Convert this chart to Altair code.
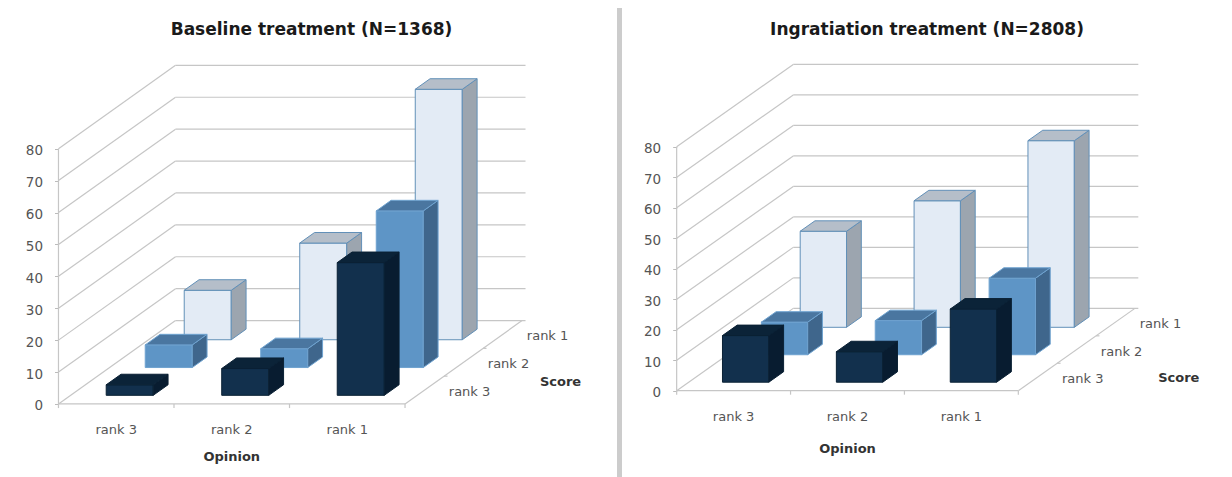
import altair as alt
import pandas as pd

OPINIONS = ["rank 3", "rank 2", "rank 1"]
SCORES = ["rank 3", "rank 2", "rank 1"]   # front to back
TICKS = [0, 10, 20, 30, 40, 50, 60, 70, 80]

# values per score series, in opinion order
BASE_RANK3 = [3.3, 8.4, 41.6]
BASE_RANK2 = [7.1, 5.9, 49.1]
BASE_RANK1 = [15.5, 30.3, 78.5]
ING_RANK3 = [15.3, 10.0, 24.0]
ING_RANK2 = [10.7, 11.2, 25.1]
ING_RANK1 = [31.5, 41.5, 61.2]

PALETTE = {  # front, side, top, stroke
    "rank 1": ("#E3EBF5", "#9CA5AF", "#B5BEC9", "#6290B8"),
    "rank 2": ("#5E95C6", "#3F668C", "#4A76A0", "#6FA3D0"),
    "rank 3": ("#12304D", "#081C30", "#0B2338", "#0A2034"),
}
GRID = "#C6C6C6"
TEXT = "#555555"
FONT = "DejaVu Sans"


def panel(title, series, xdom, ydom, width, k, m, pad, title_dx, shift, opinion_dy, score_dx, score_dy):
    """k, m: how far one score slot shifts a point along x and y (oblique projection)."""
    half_w, half_d, lift = 0.2035, 0.19, 0.5

    def px(u, d):
        return u + d * k

    def py(v, d):
        return v + d * m

    lines = []
    def seg(name, a, b):
        lines.append(dict(id=name, x=a[0], y=a[1], o=0))
        lines.append(dict(id=name, x=b[0], y=b[1], o=1))

    for t in TICKS:
        seg(f"wall{t}", (px(0, 0), py(t, 0)), (px(0, 3), py(t, 3)))
        seg(f"back{t}", (px(0, 3), py(t, 3)), (px(3.03, 3), py(t, 3)))
    seg("yaxis", (0, 0), (0, 80))
    seg("floorfront", (0, 0), (3, 0))
    seg("floorside", (px(3, 0), py(0, 0)), (px(3, 3), py(0, 3)))
    for i in range(4):
        seg(f"xt{i}", (i, 0), (i, -1.3))
    for i in range(1, 3):
        seg(f"dt{i}", (px(3, i), py(0, i)), (px(3.03, i), py(0, i)))

    axis_holder = (
        alt.Chart(pd.DataFrame({"v": TICKS, "u": [0] * len(TICKS)}))
        .mark_point(opacity=0)
        .encode(
            x=alt.X("u:Q", scale=alt.Scale(domain=xdom, nice=False, zero=False), axis=None),
            y=alt.Y(
                "v:Q",
                scale=alt.Scale(domain=ydom, nice=False, zero=False),
                axis=alt.Axis(
                    title=None, values=TICKS, grid=False, domain=False,
                    offset=-pad, tickColor="#BBBBBB", tickSize=4,
                    labelFont=FONT, labelFontSize=13.5, labelColor=TEXT,
                    labelPadding=12, labelOffset=2,
                ),
            ),
        )
    )
    x_q, y_q = alt.X("x:Q"), alt.Y("y:Q")
    grid = (
        alt.Chart(pd.DataFrame(lines))
        .mark_line(color=GRID, strokeWidth=1.2)
        .encode(x=x_q, y=y_q, detail="id:N", order="o:Q")
    )

    layers = [axis_holder, grid]
    for s in reversed(range(3)):
        name = SCORES[s]
        front_c, side_c, top_c, stroke_c = PALETTE[name]
        d0 = s + lift - half_d
        d1 = s + lift + half_d
        front, side, top = [], [], []
        for i, val in enumerate(series[s]):
            u0, u1 = i + 0.5 - half_w + shift, i + 0.5 + half_w + shift
            front += [dict(id=i, x=px(u0, d0), y=py(val, d0), y2=py(0, d0)),
                      dict(id=i, x=px(u1, d0), y=py(val, d0), y2=py(0, d0))]
            side += [dict(id=i, x=px(u1, d0), y=py(val, d0), y2=py(0, d0)),
                     dict(id=i, x=px(u1, d1), y=py(val, d1), y2=py(0, d1))]
            top += [dict(id=i, y=py(val, d0), x=px(u0, d0), x2=px(u1, d0)),
                    dict(id=i, y=py(val, d1), x=px(u0, d1), x2=px(u1, d1))]
        for rows, col in ((front, front_c), (side, side_c)):
            layers.append(
                alt.Chart(pd.DataFrame(rows))
                .mark_area(fill=col, stroke=stroke_c, strokeWidth=1, opacity=1)
                .encode(x=x_q, y=y_q, y2="y2:Q", detail="id:N")
            )
        layers.append(
            alt.Chart(pd.DataFrame(top))
            .mark_area(orient="horizontal", fill=top_c, stroke=stroke_c, strokeWidth=1, opacity=1)
            .encode(x=x_q, x2="x2:Q", y=y_q, detail="id:N")
        )

    opinion_labels = pd.DataFrame(
        {"t": OPINIONS, "x": [i + 0.5 for i in range(3)], "y": [0.0] * 3}
    )
    score_labels = pd.DataFrame(
        {"t": SCORES, "x": [px(3, s + 0.5) for s in range(3)], "y": [py(0, s + 0.5) for s in range(3)]}
    )
    layers.append(
        alt.Chart(opinion_labels)
        .mark_text(font=FONT, fontSize=13, color=TEXT, dy=26)
        .encode(x=x_q, y=y_q, text="t:N")
    )
    layers.append(
        alt.Chart(score_labels)
        .mark_text(font=FONT, fontSize=13, color=TEXT, dx=45, dy=2)
        .encode(x=x_q, y=y_q, text="t:N")
    )
    layers.append(
        alt.Chart(pd.DataFrame({"t": ["Opinion"], "x": [1.5], "y": [0.0]}))
        .mark_text(font=FONT, fontSize=13, fontWeight="bold", color="#333333", dy=opinion_dy)
        .encode(x=x_q, y=y_q, text="t:N")
    )
    layers.append(
        alt.Chart(pd.DataFrame({"t": ["Score"], "x": [px(3, 0.5)], "y": [py(0, 0.5)]}))
        .mark_text(font=FONT, fontSize=13, fontWeight="bold", color="#333333", dx=score_dx, dy=score_dy)
        .encode(x=x_q, y=y_q, text="t:N")
    )
    return alt.layer(*layers).properties(
        width=width, height=469,
        title=alt.Title(title, font=FONT, fontSize=17, fontWeight="bold", color="#1a1a1a",
                        offset=-31, anchor="middle", dx=title_dx),
    )


left = panel("Baseline treatment (N=1368)", [BASE_RANK3, BASE_RANK2, BASE_RANK1],
             [-0.437, 4.835], [-22.9, 124.1], 609, 0.3377, 8.71, 50.5, -1, 0.012, 53, 136, -8)
right = panel("Ingratiation treatment (N=2808)", [ING_RANK3, ING_RANK2, ING_RANK1],
              [-0.480, 4.806], [-28.3, 125.5], 602, 0.3412, 9.0, 54.7, 4, 0.0, 58, 141, 1)

chart = (
    alt.hconcat(left, right, spacing=5)
    .resolve_scale(x="independent", y="independent")
    .properties(padding=0, background="#CCCCCC")
    .configure_view(fill="white", stroke=None)
)
chart.save("out.html", embed_options={"renderer": "svg", "actions": False})
